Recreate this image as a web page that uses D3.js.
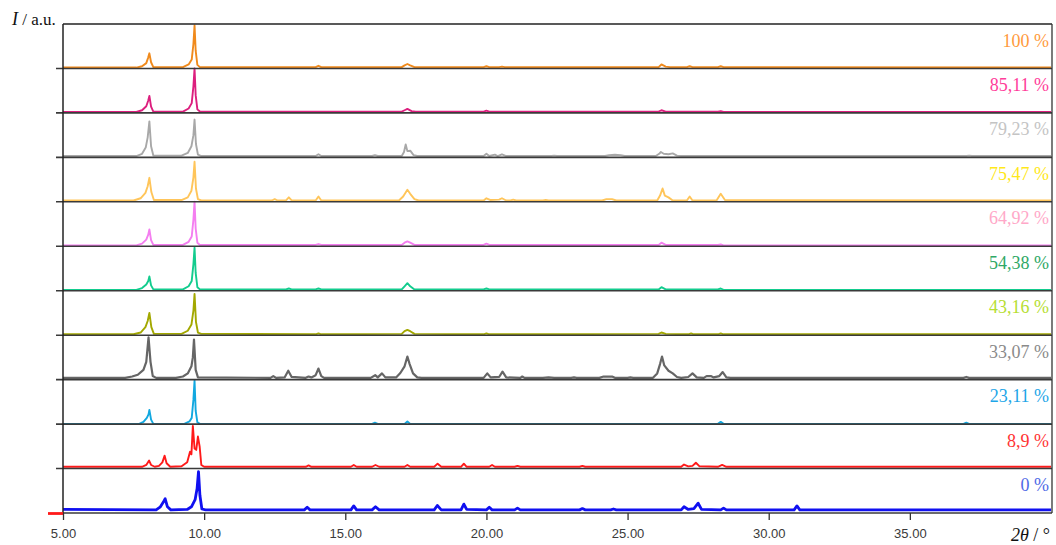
<!DOCTYPE html>
<html>
<head>
<meta charset="utf-8">
<script src="https://cdn.jsdelivr.net/npm/d3@7"></script>
<style>
  html, body { margin: 0; padding: 0; background: #fff; }
  svg { display: block; }
</style>
</head>
<body>
<div id="chart"></div>
<script>
// ---------- DATA (2θ in degrees, intensity in % of panel height) ----------
const labels = ["100 %", "85,11 %", "79,23 %", "75,47 %", "64,92 %", "54,38 %", "43,16 %", "33,07 %", "23,11 %", "8,9 %", "0 %"];
const xTicks = [5, 10, 15, 20, 25, 30, 35];

const s100 = [[5,2],[7.6,2],[7.8,5],[7.95,12],[8.02,25],[8.06,34],[8.12,14],[8.2,3],[9.25,3],[9.45,9],[9.56,20],[9.62,55],[9.66,97],[9.7,40],[9.76,8],[9.85,3],[13.95,3],[14.05,6],[14.15,3],[17.0,3],[17.1,7],[17.2,10],[17.3,7],[17.45,3],[19.9,3],[20.0,5],[20.1,3],[20.45,3],[20.55,4],[20.65,3],[26.1,3],[26.2,9],[26.35,4],[26.5,3],[27.1,3],[27.2,5],[27.3,3],[28.2,3],[28.3,5],[28.4,3],[40,2]];
const s8511 = [[5,2],[7.6,2],[7.8,6],[7.95,15],[8.02,28],[8.06,38],[8.12,14],[8.2,3],[9.25,3],[9.45,10],[9.56,22],[9.62,60],[9.66,100],[9.7,40],[9.76,8],[9.85,3],[17.0,3],[17.1,6],[17.2,9],[17.35,4],[17.5,3],[19.9,3],[20.0,5],[20.1,3],[26.1,3],[26.2,6],[26.35,3],[28.2,3],[28.3,4],[28.4,2],[40,2]];
const s7923 = [[5,3],[7.6,3],[7.8,8],[7.93,22],[8.0,45],[8.06,81],[8.12,25],[8.2,4],[9.2,4],[9.42,10],[9.55,25],[9.62,50],[9.66,85],[9.71,30],[9.78,6],[9.9,3],[13.95,3],[14.05,7],[14.15,3],[15.95,3],[16.05,5],[16.15,3],[17.0,3],[17.08,12],[17.14,29],[17.2,14],[17.3,15],[17.42,5],[17.55,3],[19.9,3],[20.0,8],[20.1,3],[20.3,6],[20.4,3],[20.55,7],[20.7,3],[22.3,3],[22.4,4],[22.5,3],[24.2,3],[24.35,5],[24.55,6],[24.75,5],[24.9,3],[26.0,3],[26.12,8],[26.18,12],[26.28,8],[26.45,7],[26.6,9],[26.75,4],[26.9,3],[37.0,3],[37.1,4],[37.2,3],[40,3]];
const s7547 = [[5,3],[7.5,3],[7.75,8],[7.92,20],[8.0,35],[8.06,54],[8.13,22],[8.22,4],[9.2,4],[9.42,10],[9.55,25],[9.62,55],[9.66,90],[9.71,30],[9.78,6],[9.9,3],[12.4,3],[12.5,6],[12.6,3],[12.9,3],[13.0,10],[13.1,3],[13.95,3],[14.05,12],[14.15,3],[16.9,3],[17.05,12],[17.2,27],[17.3,18],[17.45,6],[17.6,3],[19.9,3],[20.0,8],[20.15,4],[20.45,5],[20.55,8],[20.7,3],[20.85,3],[20.95,5],[21.05,3],[22.0,3],[22.1,4],[22.2,3],[24.1,3],[24.25,6],[24.45,6],[24.6,3],[26.05,3],[26.15,14],[26.24,30],[26.32,14],[26.45,10],[26.6,3],[27.1,3],[27.2,12],[27.3,3],[28.15,3],[28.3,18],[28.45,4],[40,3]];
const s6492 = [[5,2],[7.6,2],[7.8,6],[7.95,15],[8.02,26],[8.06,38],[8.12,14],[8.2,3],[9.25,3],[9.45,10],[9.56,22],[9.62,60],[9.66,100],[9.7,40],[9.76,8],[9.85,3],[13.95,3],[14.05,5],[14.15,3],[17.0,3],[17.1,8],[17.2,11],[17.3,8],[17.45,3],[19.9,3],[20.0,6],[20.1,3],[26.1,3],[26.2,8],[26.35,3],[28.2,3],[28.3,4],[28.4,2],[40,2]];
const s5438 = [[5,2],[7.6,2],[7.8,6],[7.95,14],[8.02,22],[8.06,32],[8.12,12],[8.2,3],[9.25,3],[9.45,10],[9.56,22],[9.62,60],[9.66,97],[9.7,40],[9.76,8],[9.85,3],[12.9,3],[13.0,5],[13.1,3],[13.95,3],[14.05,5],[14.15,3],[17.0,3],[17.1,10],[17.2,17],[17.3,10],[17.45,3],[19.9,3],[20.0,5],[20.1,3],[26.1,3],[26.2,8],[26.35,3],[28.2,3],[28.3,5],[28.4,2],[40,2]];
const s4316 = [[5,2],[7.5,2],[7.75,6],[7.92,18],[8.0,32],[8.06,50],[8.13,18],[8.22,3],[9.2,3],[9.42,10],[9.55,24],[9.62,55],[9.66,93],[9.71,30],[9.78,6],[9.9,3],[13.95,2],[14.05,4],[14.15,2],[17.0,3],[17.1,9],[17.2,12],[17.3,9],[17.45,3],[19.9,2],[20.0,4],[20.1,2],[26.1,3],[26.2,6],[26.35,3],[27.15,2],[27.25,4],[27.35,2],[28.2,2],[28.3,4],[28.4,2],[40,2]];
const s3307 = [[5,4],[7.2,4],[7.45,7],[7.65,11],[7.85,22],[7.95,40],[8.03,95],[8.1,40],[8.18,8],[8.3,4],[9.0,4],[9.25,7],[9.42,14],[9.55,30],[9.6,50],[9.64,90],[9.7,22],[9.78,5],[12.35,4],[12.45,8],[12.55,4],[12.85,5],[12.98,20],[13.1,6],[13.6,4],[13.7,7],[13.8,5],[13.95,10],[14.05,25],[14.15,8],[14.25,4],[15.9,4],[16.06,10],[16.15,5],[16.3,14],[16.42,5],[16.8,5],[16.95,15],[17.1,30],[17.2,52],[17.28,35],[17.4,14],[17.55,5],[17.7,4],[19.9,4],[20.03,14],[20.15,5],[20.45,6],[20.57,18],[20.7,5],[21.2,4],[21.27,7],[21.35,4],[22.0,4],[22.2,5],[22.4,4],[23.0,4],[23.1,5],[23.2,4],[24.0,4],[24.15,7],[24.45,7],[24.55,4],[25.0,4],[25.1,5],[25.2,4],[25.9,4],[26.05,14],[26.15,35],[26.22,52],[26.3,32],[26.45,20],[26.6,14],[26.75,6],[26.9,4],[27.15,6],[27.3,14],[27.45,5],[27.7,4],[27.8,8],[27.95,8],[28.05,5],[28.25,8],[28.37,17],[28.5,5],[28.65,4],[36.9,4],[37.0,6],[37.1,4],[40,4]];
const s2311 = [[5,0.5],[7.7,0.5],[7.85,5],[7.97,14],[8.03,22],[8.06,32],[8.12,10],[8.2,0.5],[9.3,0.5],[9.48,6],[9.56,14],[9.62,55],[9.66,98],[9.7,30],[9.76,4],[9.85,0.5],[15.95,0.5],[16.05,3],[16.15,0.5],[17.1,0.5],[17.2,6],[17.3,0.5],[28.2,0.5],[28.3,5],[28.4,0.5],[36.9,0.5],[37.0,3],[37.1,0.5],[40,0.5]];
const s89 = [[5,4],[7.8,4],[7.95,8],[8.05,18],[8.12,8],[8.25,4],[8.4,6],[8.52,14],[8.6,29],[8.67,12],[8.8,4],[9.2,5],[9.4,14],[9.5,38],[9.55,32],[9.6,96],[9.66,45],[9.72,42],[9.78,72],[9.84,50],[9.9,8],[10.0,4],[13.6,4],[13.7,7],[13.8,4],[15.2,4],[15.3,8],[15.4,4],[15.95,4],[16.07,8],[16.2,4],[17.1,4],[17.2,8],[17.3,4],[18.15,4],[18.27,11],[18.4,4],[19.1,4],[19.2,11],[19.3,4],[20.1,4],[20.2,8],[20.3,4],[21.0,4],[21.1,6],[21.2,4],[23.3,4],[23.4,6],[23.5,4],[26.9,4],[27.0,9],[27.15,5],[27.3,6],[27.42,13],[27.55,5],[28.2,4],[28.35,8],[28.5,4],[40,4]];
const s0 = [[5,8],[8.3,7],[8.45,14],[8.55,24],[8.62,32],[8.7,14],[8.82,7],[9.4,8],[9.55,14],[9.68,30],[9.75,55],[9.8,93],[9.85,40],[9.92,9],[10.05,7],[13.55,7],[13.65,13],[13.75,7],[15.2,7],[15.3,16],[15.4,7],[15.95,7],[16.07,14],[16.2,7],[18.15,7],[18.26,17],[18.4,7],[19.1,7],[19.2,20],[19.3,8],[20.0,7],[20.1,13],[20.2,7],[21.0,7],[21.1,11],[21.2,7],[23.3,7],[23.4,10],[23.5,7],[24.4,7],[24.5,9],[24.6,7],[26.9,7],[27.0,14],[27.15,8],[27.35,10],[27.5,22],[27.62,8],[28.3,7],[28.4,11],[28.5,7],[30.9,7],[31.0,16],[31.1,7],[40,7]];

const seriesData = [s100, s8511, s7923, s7547, s6492, s5438, s4316, s3307, s2311, s89, s0];
const lineColors = ["#F08A1C", "#DC1F7E", "#A8A8A8", "#FFC55A", "#F47EF0", "#13CC8E", "#A3A800", "#666666", "#12A8E0", "#FF1A1A", "#1010F0"];
const labelColors = ["#FF9A3C", "#FF3D9A", "#C4C4C4", "#FFE81A", "#FFA8C8", "#2FA866", "#B6DE32", "#8A8A8A", "#1EA6E8", "#FF3333", "#4F6AE6"];

// ---------- LAYOUT ----------
const W = 1056, H = 545;
const pLeft = 63, pRight = 1051, pTop0 = 24, pBottom = 513;
const nP = seriesData.length;
const ph = (pBottom - pTop0) / nP;

const svg = d3.select("#chart").append("svg").attr("width", W).attr("height", H);

const x = d3.scaleLinear().domain([5, 40]).range([pLeft, pRight]);

seriesData.forEach((data, i) => {
  const pTop = pTop0 + i * ph, pBot = pTop + ph;
  const y = d3.scaleLinear().domain([0, 100]).range([pBot, pTop]);
  const line = d3.line().x(d => x(d[0])).y(d => y(d[1]));
  svg.append("path").datum(data)
    .attr("d", line)
    .attr("fill", "none")
    .attr("stroke", lineColors[i])
    .attr("stroke-width", i === nP - 1 ? 2.8 : (i === 7 ? 2.2 : 1.9))
    .attr("stroke-linejoin", "round");

  svg.append("text")
    .attr("x", 1049).attr("y", pTop + 22.5)
    .attr("text-anchor", "end")
    .attr("font-family", "'Liberation Serif', 'Times New Roman', serif")
    .attr("font-size", 18)
    .attr("fill", labelColors[i])
    .text(labels[i]);
});

// panel frames / separators
const frame = svg.append("g");
for (let i = 0; i <= nP; i++) {
  const yy = pTop0 + i * ph;
  frame.append("line")
    .attr("x1", (i === 0 || i === nP) ? pLeft : 56).attr("x2", pRight + 1)
    .attr("y1", yy).attr("y2", yy)
    .attr("stroke", i === 0 ? "#222" : "#3a3a3a")
    .attr("stroke-width", i === 0 ? 1.3 : 1.6);
}
frame.append("line").attr("x1", pLeft).attr("x2", pLeft).attr("y1", pTop0).attr("y2", pBottom + 1)
  .attr("stroke", "#222").attr("stroke-width", 1.5);
frame.append("line").attr("x1", pRight + 1).attr("x2", pRight + 1).attr("y1", pTop0).attr("y2", pBottom)
  .attr("stroke", "#333").attr("stroke-width", 1.3);
frame.append("line").attr("x1", 48).attr("x2", pLeft).attr("y1", pBottom + 0.5).attr("y2", pBottom + 0.5)
  .attr("stroke", "#FF1A1A").attr("stroke-width", 2.8);

// bottom axis
const xAxis = d3.axisBottom(x).tickValues(xTicks).tickFormat(d3.format(".2f")).tickSize(7).tickSizeOuter(0);
const gx = svg.append("g").attr("transform", `translate(0,${pBottom})`).call(xAxis);
gx.select(".domain").remove();
gx.selectAll(".tick line").attr("stroke", "#333").attr("stroke-width", 1.3);
gx.selectAll(".tick text")
  .attr("y", 25).attr("dy", 0)
  .attr("font-family", "'Liberation Sans', Arial, sans-serif")
  .attr("font-size", 13)
  .attr("fill", "#3a3a3a");

// axis titles
const yt = svg.append("text").attr("x", 12).attr("y", 25)
  .attr("font-family", "'Liberation Serif', 'Times New Roman', serif")
  .attr("font-size", 17).attr("fill", "#111");
yt.append("tspan").attr("font-style", "italic").attr("font-size", 18).text("I");
yt.append("tspan").text(" / a.u.");

const xt = svg.append("text").attr("x", 1050).attr("y", 541)
  .attr("text-anchor", "end")
  .attr("font-family", "'Liberation Serif', 'Times New Roman', serif")
  .attr("font-size", 18).attr("fill", "#111");
xt.append("tspan").attr("font-style", "italic").text("2θ");
xt.append("tspan").text(" / °");
</script>
</body>
</html>
